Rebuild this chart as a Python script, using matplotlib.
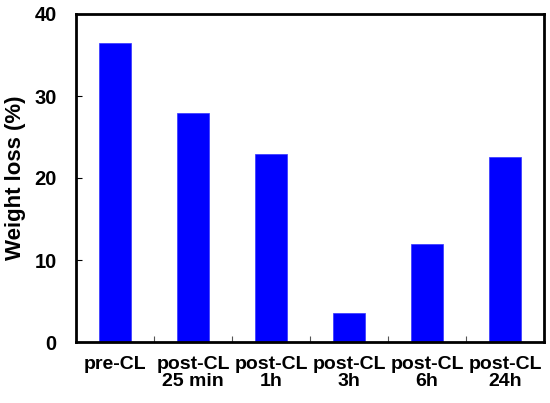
import matplotlib
matplotlib.use("Agg")
import matplotlib.pyplot as plt
import numpy as np

categories = ["pre-CL", "post-CL\n25 min", "post-CL\n1h", "post-CL\n3h", "post-CL\n6h", "post-CL\n24h"]
weight_loss = [36.5, 27.9, 22.9, 3.5, 12.0, 22.5]
yticks = [0, 10, 20, 30, 40]

plt.rcParams['font.family'] = ['Liberation Sans', 'DejaVu Sans']
plt.rcParams['font.weight'] = 'bold'

fig = plt.figure(figsize=(5.5, 4.03), dpi=100)
ax = fig.add_axes([76/550, 1-342/403, 468/550, 328/403])

x = np.arange(len(categories))
ax.bar(x, weight_loss, width=0.4, color='#0000ff', edgecolor='#3333ff', linewidth=0.5)

ax.set_xlim(-0.5, len(categories) - 0.5)
ax.set_ylim(0, 40)
ax.set_yticks(yticks)
ax.set_yticklabels([str(t) for t in yticks], fontsize=14.5, fontweight='bold')
ax.set_xticks(x)
ax.set_xticklabels(categories, fontsize=14, fontweight='bold', linespacing=1.0)
ax.tick_params(axis='x', length=0, pad=10)
ax.set_xticks(np.arange(0.5, len(categories) - 1, 1), minor=True)
ax.tick_params(axis='x', which='minor', direction='in', length=4, width=0.8, colors='#555555')
ax.tick_params(axis='y', direction='in', length=4, width=0.8, pad=14)
for s in ax.spines.values():
    s.set_linewidth(2)
ax.set_ylabel("Weight loss (%)", fontsize=16, fontweight='bold', labelpad=6)

fig.savefig("out.png", dpi=100)
